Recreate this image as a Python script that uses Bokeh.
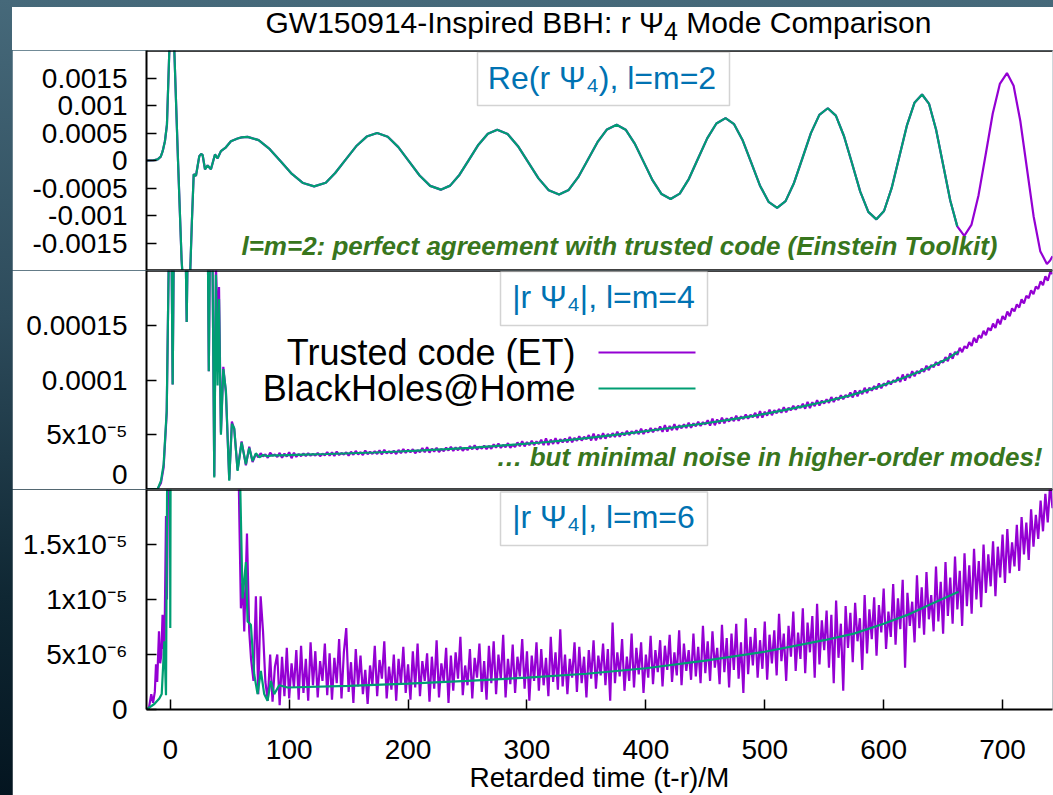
import numpy as np
from bokeh.plotting import figure
from bokeh.models import Range1d, FixedTicker, Span, Label, BoxAnnotation, Arrow, Spacer, Div
from bokeh.layouts import column, row
from bokeh.embed import file_html
from bokeh.resources import INLINE

# ---------------- texts ----------------
title_html = "GW150914-Inspired BBH: r \u03a8<sub>4</sub> Mode Comparison"
x_label = "Retarded time (t-r)/M"
series_names = ["Trusted code (ET)", "BlackHoles@Home"]
panel_titles = ["Re(r \u03a8\u2084), l=m=2", "|r \u03a8\u2084|, l=m=4", "|r \u03a8\u2084|, l=m=6"]
notes = ["l=m=2: perfect agreement with trusted code (Einstein Toolkit)",
         "\u2026 but minimal noise in higher-order modes!"]
x_ticks = [0, 100, 200, 300, 400, 500, 600, 700]
y22_ticks = [-0.0015, -0.001, -0.0005, 0, 0.0005, 0.001, 0.0015]
y22_labels = ["-0.0015", "-0.001", "-0.0005", "0", "0.0005", "0.001", "0.0015"]
y44_ticks = [0, 5e-5, 1e-4, 1.5e-4]
y44_labels = ["0", "5x10\u207b\u2075", "0.0001", "0.00015"]
y66_ticks = [0, 5e-6, 1e-5, 1.5e-5]
y66_labels = ["0", "5x10\u207b\u2076", "1x10\u207b\u2075", "1.5x10\u207b\u2075"]
bh_end_time = 663  # BlackHoles@Home data ends here

# ---------------- l=m=2, Re(r Psi4), units of 1e-4 (both codes agree) ----------------
t_22 = [-20, -14, -10.6, -8, -6.4, -4.5, -2.8, -0.8, 1.3, 3.4, 6.5, 9.5, 13.5, 16.8, 18.2, 19.7,
        21.6, 23, 24.4, 26, 27.2, 29.2, 31.4, 34.2, 37.6, 39.8, 42.6, 46.8, 51, 56.6, 60, 65,
        74.3, 83.7, 93, 102.3, 111.7, 121,
        130.8, 138.7, 147.5, 156.3, 165.2, 174,
        182.9, 191.8, 200.8, 209.7, 218.6, 227.5,
        235.4, 243.3, 251.3, 259.2, 267.1, 275,
        283.7, 292.3, 301, 309.7, 318.3, 327,
        335.1, 343.1, 351.2, 359.3, 367.3, 375.4,
        383, 390.5, 398.1, 405.7, 413.2, 420.8,
        428.5, 436.2, 443.9, 451.6, 459.3, 467,
        474.2, 481.5, 488.7, 495.9, 503.2, 510.4,
        517.5, 524.6, 531.7, 538.8, 545.9, 553,
        559.8, 566.6, 573.5, 580.3, 587.1, 593.9,
        600.3, 606.7, 613.1, 619.5, 625.9, 632.3,
        638.2, 644.1, 650.1, 656, 661.9, 667.8,
        673.8, 679.8, 685.8, 691.7, 697.7, 703.7,
        709.3, 714.9, 720.5, 726.1, 731.7, 737.3, 740, 742]
re_22 = [0.0, 0.05, 0.2, 0.7, 1.7, 3.5, 6.5, 20, 32, 20, 0, -18, -32, -20, -11, -2.5,
         -2.8, -1.0, 0.8, 1.2, 1.0, -1.6, -0.9, -1.6, 1.1, 0.4, 1.7, 2.4, 3.5, 4.0, 4.2, 4.3,
         3.7, 2.05, -0.2, -2.45, -4.1, -4.7,
         -4.05, -2.28, 0.15, 2.58, 4.35, 5.0,
         4.31, 2.43, -0.15, -2.73, -4.61, -5.3,
         -4.57, -2.58, 0.15, 2.88, 4.87, 5.6,
         4.81, 2.65, -0.3, -3.25, -5.41, -6.2,
         -5.35, -3.03, 0.15, 3.33, 5.65, 6.5,
         5.6, 3.13, -0.25, -3.63, -6.1, -7.0,
         -6.02, -3.33, 0.35, 4.03, 6.72, 7.7,
         6.61, 3.63, -0.45, -4.53, -7.51, -8.6,
         -7.39, -4.08, 0.45, 4.98, 8.29, 9.5,
         8.15, 4.45, -0.6, -5.65, -9.35, -10.7,
         -9.18, -5.03, 0.65, 6.33, 10.48, 12.0,
         10.28, 5.58, -0.85, -7.28, -11.98, -13.7,
         -11.72, -6.3, 1.1, 8.5, 13.92, 15.9,
         13.58, 7.23, -1.45, -10.13, -16.48, -18.8, -18.2, -17.4]

# ---------------- l=m=4, |r Psi4|, units of 1e-6 ----------------
t_44_bh = [-20, -10.6, -7.8, -5.6, -3, -1.4, 0, 1.2, 2, 2.8,
           5, 9, 12.5, 13.8, 15, 20, 26, 31.4, 32.4, 33.6,
           35, 37, 38.4, 39.8, 41, 42.6, 44.6, 46.8, 49.6, 51.8,
           53.8, 56.6, 60, 63.6, 66.4, 69.2, 72, 75, 78, 82,
           86, 92, 112, 132, 152, 172, 192, 212, 232, 252,
           272, 292, 312, 332, 352, 372, 392, 412, 432, 452,
           472, 492, 512, 532, 552, 572, 592, 612, 632, 652, 663]
abs_44_bh = [0, 0.5, 8, 23, 72, 200, 280, 200, 96, 200,
             350, 300, 250, 153, 250, 400, 350, 250, 108, 250,
             280, 11, 196, 95, 174, 50, 110, 90, 8, 60,
             56, 17, 43, 23, 38, 26, 33, 29.5, 31.5, 30.5,
             31.2, 31.2, 31.8, 32.4, 33.1, 33.8, 34.7, 35.8, 36.9, 38.1,
             39.6, 41.2, 42.9, 44.8, 47.2, 49.6, 52.2, 55.0, 57.8, 60.7,
             64.0, 67.5, 71.6, 75.9, 80.6, 86.0, 92.6, 100.0, 108.5, 118.4, 126.0]
t_44_et_early = [-20, -10.6, -7.8, -5.6, -3, -1.4, 0, 1.2, 2, 2.8,
                 5, 9, 12.5, 13.8, 15, 20, 26, 31.4, 32.4, 33.6,
                 35, 37, 38.4, 39.8, 41, 42.6, 44.6, 46.8, 49.6, 51.8,
                 53.8, 56.6, 60, 63.6, 66.4, 69.2]
abs_44_et_early = [0, 0.6, 6, 20, 70, 200, 280, 200, 96, 200,
                   350, 300, 250, 153, 250, 400, 350, 250, 108, 250,
                   280, 12, 205, 150, 185, 52, 112, 88, 9, 62,
                   55, 18, 44, 22, 39, 25]
abs_44_et_late = [  # t = 72, 74, ..., 742
    32.5, 29.4, 33.1, 30.2, 32.0, 28.9, 33.6, 30.8, 31.9, 29.7,
    33.4, 29.0, 32.8, 30.1, 34.0, 28.6, 33.5, 29.8, 32.4, 30.5,
    32.9, 30.6, 33.2, 30.9, 32.5, 31.0, 33.4, 30.4, 32.7, 31.3,
    34.1, 31.0, 33.8, 30.7, 34.6, 31.5, 33.3, 31.9, 34.0, 30.9,
    34.5, 31.7, 35.2, 32.0, 34.1, 31.4, 35.6, 32.3, 34.4, 32.6,
    35.0, 32.5, 35.7, 32.1, 36.2, 32.9, 34.8, 33.0, 35.4, 32.4,
    36.1, 33.2, 37.0, 33.5, 36.4, 33.9, 36.8, 33.1, 35.9, 34.0,
    37.9, 34.1, 38.6, 33.7, 37.2, 34.6, 38.1, 34.3, 37.0, 35.1,
    38.2, 35.6, 39.0, 35.3, 38.5, 35.9, 38.9, 35.4, 38.1, 36.0,
    39.6, 36.8, 40.4, 36.5, 39.2, 37.4, 40.1, 36.9, 39.8, 37.2,
    41.2, 38.3, 41.9, 38.0, 40.8, 38.6, 42.3, 38.1, 41.0, 38.9,
    43.0, 39.5, 44.2, 39.4, 43.3, 40.5, 44.5, 40.6, 43.9, 41.6,
    45.4, 40.5, 46.6, 40.5, 45.6, 41.6, 46.9, 41.7, 46.0, 43.0,
    46.6, 43.1, 48.0, 43.2, 47.2, 44.5, 48.5, 44.7, 48.1, 45.9,
    49.7, 44.8, 51.0, 44.9, 50.1, 46.2, 51.5, 46.4, 50.7, 47.8,
    51.4, 48.0, 52.8, 48.1, 52.1, 49.4, 53.5, 49.7, 53.1, 50.9,
    54.0, 50.6, 55.5, 50.7, 54.7, 52.1, 56.2, 52.3, 55.8, 53.6,
    57.5, 52.7, 58.9, 52.8, 58.0, 54.2, 59.6, 54.4, 58.8, 55.9,
    59.6, 56.2, 61.1, 56.4, 60.4, 57.8, 61.8, 58.0, 61.5, 59.3,
    63.2, 58.4, 64.7, 58.7, 63.9, 60.2, 65.6, 60.5, 65.0, 62.1,
    65.8, 62.5, 67.4, 62.8, 66.8, 64.3, 68.4, 64.7, 68.2, 66.1,
    70.0, 65.3, 71.6, 65.7, 71.0, 67.4, 72.9, 67.9, 72.4, 69.6,
    73.4, 70.1, 75.2, 70.6, 74.7, 72.3, 76.5, 72.8, 76.5, 74.4,
    78.4, 73.8, 80.1, 74.3, 79.7, 76.1, 81.6, 76.7, 81.2, 78.5,
    82.4, 79.2, 84.4, 79.9, 84.1, 81.8, 86.1, 82.5, 86.2, 84.3,
    88.5, 84.1, 90.6, 85.0, 90.5, 87.1, 92.9, 88.1, 92.9, 90.3,
    94.4, 91.4, 96.8, 92.5, 96.9, 94.7, 99.3, 95.9, 99.8, 98.1,
    102.5, 98.2, 105.0, 99.5, 105.3, 102.0, 108.0, 103.4, 108.3, 106.0,
    110.3, 107.5, 113.1, 109.0, 113.7, 111.7, 116.4, 113.3, 117.4, 115.9,
    120.9, 117.1, 124.4, 119.4, 125.7, 123.0, 129.4, 125.4, 130.8, 129.0,
    134.6, 131.2, 138.5, 134.2, 140.8, 138.3, 144.9, 141.0, 147.6, 145.1,
    151.5, 147.5, 155.6, 150.8, 158.3, 155.1, 162.6, 158.2, 165.4, 162.7,
    169.1, 166.2, 173.8, 169.9, 176.9, 174.8, 181.8, 178.3, 185.3, 183.2,
    190.0, 186.6, 194.8, 190.7, 198.3, 197.0]

# ---------------- l=m=6, |r Psi4|, units of 1e-6 ----------------
t_66_bh = [-20, -13.4, -9.2, -7.2, -5, -3.6, -2.2, -1, 0, 1,
           5, 20, 40, 55, 58.8, 60.8, 63.6, 65, 67.8, 70.6,
           73.4, 76.2, 79, 81.8, 84.6, 87.4, 91.6, 98.7, 150, 200,
           250, 300, 350, 400, 450, 500, 550, 575, 600, 620, 640, 663]
abs_66_bh = [0, 0.5, 1.0, 1.4, 6.2, 1.3, 30, 60, 7.4, 60,
             150, 120, 100, 60, 20.5, 10.1, 13.4, 8.0, 7.7, 3.2,
             1.4, 3.5, 1.4, 0.8, 2.6, 1.4, 2.2, 2.0, 2.15, 2.35,
             2.6, 2.9, 3.25, 3.75, 4.45, 5.25, 6.3, 6.9, 7.8, 8.6, 9.6, 10.7]
t_66_et_early = [-20, -18, -16, -14.5, -13, -12, -11, -9.5, -8.5, -7.5,
                 -6.5, -5.5, -4.8, -3.6, -2.8, -1.5, 0, 4, 10, 20,
                 30, 40, 50, 55, 58, 59.4, 61, 62.2, 64.5, 66.4, 68]
abs_66_et_early = [0.0, 0.1, 1.4, 0.6, 1.6, 4.1, 2.5, 7.1, 4.2, 5.0,
                   8.6, 5.5, 6.5, 17.6, 10.0, 25, 60, 80, 150, 100,
                   140, 90, 60, 40, 18, 9.2, 11.5, 7.1, 16.0, 7.1, 4.5]
abs_66_et_late = [  # t = 70, 72, ..., 742
    2.6, 10.3, 1.4, 10.3, 7.1, 2.5, 0.8, 5.0, 0.7, 3.9,
    5.0, 0.4, 4.8, 1.2, 5.6, 1.0, 4.2, 2.0, 5.4, 0.9,
    5.8, 1.5, 4.6, 0.8, 6.1, 2.2, 5.3, 1.1, 4.4, 2.6,
    6.0, 1.3, 5.1, 0.9, 4.7, 2.4, 6.4, 1.0, 5.2, 7.4,
    1.6, 4.3, 0.6, 5.5, 2.1, 4.9, 1.4, 3.6, 0.5, 4.0,
    2.2, 5.8, 1.2, 4.5, 2.8, 6.2, 1.0, 3.9, 1.8, 5.0,
    0.8, 4.6, 2.3, 5.7, 1.5, 4.1, 0.9, 5.3, 2.0, 6.0,
    1.2, 4.4, 2.6, 5.1, 0.7, 4.8, 1.9, 6.3, 1.1, 4.2,
    2.5, 5.6, 0.6, 4.9, 1.7, 5.2, 2.8, 6.6, 1.3, 4.0,
    2.2, 5.5, 1.0, 4.7, 2.9, 6.0, 1.6, 4.4, 0.9, 5.8,
    2.4, 6.2, 1.4, 5.0, 2.7, 6.8, 1.1, 4.6, 2.3, 5.9,
    1.5, 4.8, 3.0, 6.4, 1.9, 5.3, 0.8, 4.9, 2.6, 6.1,
    1.7, 5.5, 2.2, 4.7, 1.2, 6.6, 2.5, 5.2, 1.8, 7.3,
    2.1, 5.0, 1.4, 4.6, 2.9, 6.1, 1.6, 5.7, 2.4, 4.8,
    1.1, 5.4, 2.8, 6.3, 1.9, 4.9, 3.1, 6.0, 2.2, 5.5,
    0.8, 7.9, 2.4, 5.2, 3.0, 6.4, 1.7, 4.8, 2.6, 6.9,
    2.0, 5.6, 3.2, 6.1, 1.5, 5.0, 2.9, 6.7, 2.3, 5.4,
    3.4, 6.3, 2.1, 5.8, 3.6, 6.8, 2.5, 5.2, 3.1, 7.2,
    2.2, 6.0, 3.5, 5.4, 2.7, 6.9, 3.0, 5.7, 2.4, 7.6,
    3.3, 6.2, 2.6, 7.1, 3.8, 5.6, 2.3, 7.7, 3.4, 6.5,
    2.0, 6.9, 3.6, 7.8, 2.8, 6.1, 1.5, 8.3, 3.2, 6.6,
    4.0, 7.4, 2.9, 6.3, 3.7, 8.0, 2.7, 6.8, 4.2, 7.2,
    3.1, 8.7, 4.4, 6.9, 2.6, 7.6, 4.8, 8.9, 3.5, 7.0,
    4.6, 9.2, 3.3, 7.9, 5.2, 8.5, 2.9, 9.6, 4.1, 8.1,
    5.4, 9.0, 3.8, 8.6, 2.4, 9.9, 4.7, 7.8, 1.7, 9.4,
    5.6, 8.8, 4.3, 9.7, 6.2, 8.3, 3.6, 10.4, 5.1, 9.1,
    6.4, 10.2, 4.9, 9.5, 7.0, 11.0, 5.5, 8.9, 6.6, 11.4,
    5.9, 10.1, 7.3, 11.8, 3.8, 10.6, 7.6, 9.8, 6.1, 12.2,
    7.4, 11.1, 6.8, 12.5, 8.2, 10.4, 7.1, 13.0, 8.0, 11.6,
    6.9, 13.4, 8.5, 12.0, 7.8, 13.9, 9.1, 12.6, 7.6, 14.2,
    9.4, 13.1, 8.7, 14.6, 10.0, 13.5, 9.3, 15.0, 10.6, 14.1,
    11.2, 15.3, 10.3, 14.8, 12.0, 15.9, 11.5, 16.4, 12.4, 15.2,
    13.0, 16.8, 12.6, 17.5, 14.1, 17.0, 13.6, 18.2, 14.8, 17.7,
    15.5, 19.0, 16.2, 19.6, 17.0, 20.5, 18.3]

# ---------------- assemble series ----------------
t22 = np.array(t_22, dtype=float)
v22 = np.array(re_22) * 1e-4
bh22 = t22 <= bh_end_time

t44_et = np.array(t_44_et_early + list(range(72, 743, 2)), dtype=float)
v44_et = np.array(abs_44_et_early + abs_44_et_late) * 1e-6
t44_bh = np.array(t_44_bh, dtype=float)
v44_bh = np.array(abs_44_bh) * 1e-6

t66_et = np.array(t_66_et_early + list(range(70, 743, 2)), dtype=float)
v66_et = np.array(abs_66_et_early + abs_66_et_late) * 1e-6
t66_bh = np.array(t_66_bh, dtype=float)
v66_bh = np.array(abs_66_bh) * 1e-6

assert len(t22) == len(v22) and len(t44_et) == len(v44_et) and len(t44_bh) == len(v44_bh)
assert len(t66_et) == len(v66_et) and len(t66_bh) == len(v66_bh)

# ---------------- style ----------------
FONT = "Liberation Sans"
PURPLE = "#9400d3"
TEAL = "#009e73"
BLUE = "#0072b2"
GREEN = "#38761d"
LW = 2.2
TICK_FS = "28px"
X0, X1 = -20, 742
FRAME_L, FRAME_R = 146, 1052   # window pixels
W = 1041
xr = Range1d(X0, X1)


def xd(px):
    return X0 + (px - FRAME_L) / (FRAME_R - FRAME_L) * (X1 - X0)


def ymap(top_px, h_px, lo, hi):
    return lambda py: hi - (py - top_px) / h_px * (hi - lo)


def make_fig(height, yr, ticks, labels, top=0, bottom=0, xloc=None):
    p = figure(width=W, height=height, x_range=xr, y_range=Range1d(*yr),
               output_backend="svg", toolbar_location=None, x_axis_location=xloc,
               min_border_left=FRAME_L - 12, min_border_right=W - (FRAME_R - 12),
               min_border_top=top, min_border_bottom=bottom)
    p.background_fill_color = "white"
    p.border_fill_color = "white"
    p.outline_line_color = None
    p.xgrid.visible = False
    p.ygrid.visible = False
    ax = p.yaxis[0]
    ax.ticker = FixedTicker(ticks=ticks)
    ax.major_label_overrides = dict(zip(ticks, labels))
    ax.major_tick_in = 10
    ax.major_tick_out = 0
    ax.minor_tick_in = 0
    ax.minor_tick_out = 0
    ax.major_tick_line_width = 1.5
    ax.axis_line_width = 2
    ax.axis_line_color = "black"
    ax.major_label_text_font = FONT
    ax.major_label_text_font_size = TICK_FS
    ax.major_label_text_color = "black"
    ax.major_label_standoff = 19
    p.add_layout(Span(location=yr[1], dimension="width", line_color="black", line_width=2.5))
    return p


# ---- chart title (white band above the first panel) ----
title_div = Div(
    text=('<div style="width:1041px;text-align:center;transform:translateX(66px);'
          'font-family:\'Liberation Sans\';font-size:30px;line-height:30px;color:black;'
          'white-space:nowrap;padding-top:1px">' + title_html + '</div>'),
    width=W, height=43, margin=0, styles={"background-color": "white"})

# ---- top panel: l=m=2 ----
p1 = make_fig(220, (-0.002, 0.002), y22_ticks, y22_labels)
y1 = ymap(50, 220, -0.002, 0.002)
p1.add_layout(Span(location=-0.002, dimension="width", line_color="black", line_width=2.5))
p1.line(t22, v22, line_color=PURPLE, line_width=LW)
p1.line(t22[bh22], v22[bh22], line_color=TEAL, line_width=LW)
p1.add_layout(BoxAnnotation(left=xd(477), right=xd(729), top=y1(51.5), bottom=y1(105),
                            fill_color="white", fill_alpha=1.0, line_color="#6e6e6e", line_width=1.5))
p1.add_layout(Label(x=xd(601.5), y=y1(77), text=panel_titles[0], text_align="center",
                    text_baseline="middle", text_font=FONT, text_font_size="32px", text_color=BLUE))
p1.add_layout(Label(x=xd(997), y=y1(245), text=notes[0], text_align="right", text_baseline="middle",
                    text_font=FONT, text_font_size="26px", text_font_style="bold italic",
                    text_color=GREEN))

# ---- middle panel: l=m=4 ----
p2 = make_fig(219, (0, 2e-4), y44_ticks, y44_labels)
p2.add_layout(Span(location=0, dimension="width", line_color="black", line_width=2.5))
p2.line(t44_et, v44_et, line_color=PURPLE, line_width=LW)
p2.line(t44_bh, v44_bh, line_color=TEAL, line_width=LW)
y2 = ymap(270, 219, 0, 2e-4)
p2.add_layout(BoxAnnotation(left=xd(500), right=xd(707), top=y2(271), bottom=y2(325),
                            fill_color="white", fill_alpha=1.0, line_color="#6e6e6e", line_width=1.5))
p2.add_layout(Label(x=xd(603), y=y2(296), text=panel_titles[1], text_align="center",
                    text_baseline="middle", text_font=FONT, text_font_size="32px", text_color=BLUE))
for i, (name, col) in enumerate(zip(series_names, [PURPLE, TEAL])):
    yy = y2(352 + 36 * i)
    p2.add_layout(Label(x=xd(575), y=yy, text=name, text_align="right", text_baseline="middle",
                        text_font=FONT, text_font_size="36px", text_color="black"))
    p2.add_layout(Arrow(end=None, x_start=xd(598), x_end=xd(695), y_start=yy, y_end=yy,
                        line_color=col, line_width=LW))
p2.add_layout(Label(x=xd(1042), y=y2(456.5), text=notes[1], text_align="right", text_baseline="middle",
                    text_font=FONT, text_font_size="26px", text_font_style="bold italic",
                    text_color=GREEN))

# ---- bottom panel: l=m=6 ----
p3 = make_fig(306, (0, 2e-5), y66_ticks, y66_labels, bottom=86, xloc="below")
p3.line(t66_et, v66_et, line_color=PURPLE, line_width=LW)
p3.line(t66_bh, v66_bh, line_color=TEAL, line_width=LW)
xa = p3.xaxis[0]
xa.ticker = FixedTicker(ticks=x_ticks)
xa.major_tick_in = 10
xa.major_tick_out = 0
xa.minor_tick_in = 0
xa.minor_tick_out = 0
xa.major_tick_line_width = 1.5
xa.axis_line_width = 2
xa.major_label_text_font = FONT
xa.major_label_text_font_size = TICK_FS
xa.major_label_text_color = "black"
xa.major_label_standoff = 30
xa.axis_label = x_label
xa.axis_label_text_font = FONT
xa.axis_label_text_font_size = TICK_FS
xa.axis_label_text_font_style = "normal"
xa.axis_label_text_color = "black"
xa.axis_label_standoff = 0
y3 = ymap(489, 220, 0, 2e-5)
p3.add_layout(BoxAnnotation(left=xd(500), right=xd(707), top=y3(491.5), bottom=y3(545),
                            fill_color="white", fill_alpha=1.0, line_color="#6e6e6e", line_width=1.5))
p3.add_layout(Label(x=xd(603), y=y3(516), text=panel_titles[2], text_align="center",
                    text_baseline="middle", text_font=FONT, text_font_size="32px", text_color=BLUE))

layout = row(
    Spacer(width=12, height=795, margin=0),
    column(Spacer(width=W, height=7, margin=0), title_div, p1, p2, p3),
    styles={"background": "linear-gradient(180deg, #46697a 0%, #2d4b5b 40%, #0f2733 75%, #041520 100%)"},
)

open("out.html", "w").write(file_html(layout, INLINE))
